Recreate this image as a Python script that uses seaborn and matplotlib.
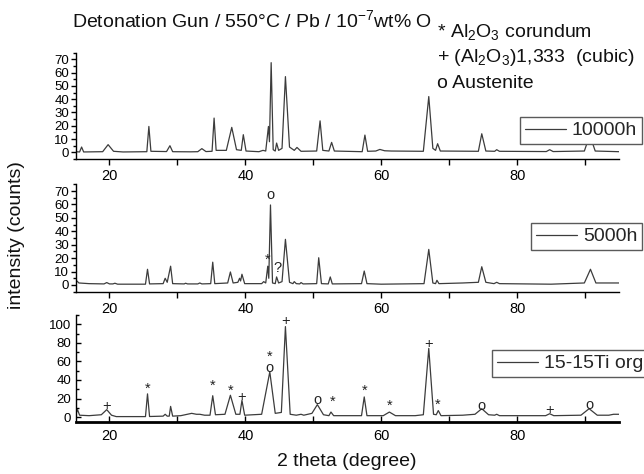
import matplotlib
matplotlib.use("Agg")
import matplotlib.pyplot as plt
from matplotlib.ticker import MultipleLocator
import pandas as pd
import seaborn as sns

# ---------------- data (vertices) ----------------
tt_10000 = [15.0, 15.6, 15.9, 16.2, 19.0, 19.8, 20.6, 22.0, 25.5, 25.8, 26.1, 28.4, 28.9, 29.3,
            32.0, 33.0, 33.6, 34.2, 35.1, 35.4, 35.7, 37.2, 38.0, 38.7, 39.4, 39.7, 40.1, 42.0,
            42.6, 43.0, 43.4, 43.55, 43.8, 44.1, 44.4, 44.6, 44.9, 45.4, 45.9, 46.5, 47.2, 47.6,
            48.2, 50.5, 51.0, 51.4, 52.3, 52.7, 53.1, 57.2, 57.6, 58.0, 59.2, 59.8, 60.5, 61.5,
            66.2, 67.0, 67.6, 68.0, 68.3, 68.7, 74.3, 74.8, 75.4, 76.7, 77.0, 77.4, 84.3, 84.8,
            85.3, 89.9, 90.7, 91.5, 95.0]
int_10000 = [0.5, 0.3, 4.0, 0.3, 0.5, 5.8, 0.8, 0.3, 0.5, 19.5, 0.8, 0.6, 5.0, 0.5,
             0.4, 0.5, 2.8, 0.6, 0.8, 25.8, 1.5, 1.5, 18.8, 2.0, 1.5, 13.3, 1.0, 0.5,
             1.5, 1.0, 19.5, 8.0, 67.5, 2.0, 1.0, 7.0, 1.5, 3.0, 57.0, 4.0, 1.5, 3.7,
             0.8, 1.0, 23.7, 1.5, 1.0, 7.5, 1.0, 0.5, 13.0, 0.8, 1.0, 2.2, 1.2, 1.0,
             0.8, 42.0, 3.0, 1.5, 6.5, 1.0, 0.8, 14.0, 1.0, 0.8, 2.0, 0.8, 0.6, 2.0,
             0.6, 1.0, 13.0, 1.0, 0.5]

tt_5000 = [15.0, 15.2, 15.5, 17.0, 19.2, 19.6, 20.0, 20.5, 20.8, 21.2, 25.3, 25.6, 25.9, 27.9,
           28.2, 28.5, 29.0, 29.3, 31.0, 31.2, 31.5, 33.0, 33.3, 33.6, 34.9, 35.2, 35.5, 37.4,
           37.8, 38.2, 38.9, 39.15, 39.3, 39.5, 39.9, 42.4, 42.7, 43.0, 43.3, 43.45, 43.7, 44.0,
           44.4, 44.6, 44.9, 45.4, 45.9, 46.5, 47.0, 47.2, 47.5, 48.0, 48.2, 48.5, 50.5, 50.8,
           51.2, 52.2, 52.5, 52.8, 57.1, 57.5, 57.9, 60.0, 66.3, 67.0, 67.6, 68.0, 68.2, 68.5,
           72.0, 74.3, 74.8, 75.4, 76.6, 77.0, 77.4, 85.0, 89.9, 90.8, 91.6, 95.0]
int_5000 = [2.0, 3.0, 1.5, 1.0, 0.8, 1.8, 0.8, 0.8, 1.3, 0.6, 0.6, 11.7, 0.8, 1.0,
            5.0, 2.0, 14.0, 1.0, 0.8, 1.3, 0.8, 0.8, 1.5, 0.8, 1.0, 17.0, 1.0, 1.5,
            9.7, 1.5, 2.0, 5.0, 3.0, 8.0, 1.0, 1.0, 2.5, 1.5, 14.0, 5.0, 59.6, 1.5,
            1.0, 6.0, 1.5, 2.5, 34.0, 2.0, 1.0, 2.5, 1.0, 0.8, 1.8, 0.8, 1.0, 20.3,
            1.0, 0.8, 6.0, 0.8, 1.0, 10.4, 1.0, 0.6, 1.0, 26.5, 1.5, 1.0, 3.5, 1.0,
            1.5, 2.0, 13.6, 2.0, 1.0, 2.0, 1.0, 0.6, 1.5, 11.7, 1.5, 1.5]

tt_org = [15.0, 15.3, 15.6, 17.0, 18.8, 19.6, 20.3, 21.0, 25.3, 25.6, 25.9, 27.9, 28.2, 28.5,
          28.8, 29.0, 29.3, 30.5, 32.1, 32.8, 33.3, 34.0, 34.8, 35.2, 35.6, 37.0, 37.8, 38.6,
          39.2, 39.5, 39.9, 42.4, 43.6, 44.4, 45.3, 45.9, 46.6, 47.5, 48.2, 48.6, 49.8, 50.6,
          51.5, 52.3, 52.6, 53.0, 57.1, 57.5, 57.9, 60.3, 61.2, 62.1, 65.0, 66.2, 67.0, 67.7,
          68.1, 68.4, 68.8, 72.0, 73.8, 74.8, 75.8, 76.7, 77.0, 77.4, 84.2, 84.8, 85.4, 89.4,
          90.6, 91.8, 93.5, 94.2, 95.0]
int_org = [2.0, 8.0, 2.0, 1.5, 2.5, 8.0, 2.0, 0.5, 0.5, 25.0, 0.6, 1.0, 3.0, 1.0,
           1.0, 11.5, 1.0, 1.5, 4.0, 3.0, 3.0, 2.0, 2.0, 23.0, 2.5, 3.0, 23.5, 3.0,
           3.0, 18.0, 2.0, 3.0, 48.7, 4.0, 5.0, 97.5, 3.0, 2.0, 3.0, 2.0, 4.0, 13.4,
           2.5, 1.5, 5.4, 1.5, 1.5, 21.7, 1.5, 1.5, 5.4, 1.5, 1.5, 2.5, 74.0, 3.0,
           2.5, 7.0, 1.5, 2.0, 3.0, 9.0, 2.5, 2.0, 3.0, 1.5, 1.5, 3.6, 1.5, 2.0,
           9.0, 2.0, 2.0, 3.0, 3.0]

series_labels = ["10000h", "5000h", "15-15Ti org"]

# phase marks in the bottom panel
mark_x = [19.6, 25.6, 35.2, 37.8, 39.5, 43.6, 45.9, 50.6, 52.8, 57.5, 61.2, 67.0, 68.3, 74.8, 84.8, 90.6]
mark_y = [11.5, 30.0, 33.6, 28.0, 21.7, 59.0, 103.0, 18.8, 16.0, 28.0, 12.6, 79.0, 13.7, 11.5, 8.0, 12.6]
mark_s = ["+", "*", "*", "*", "+", "*\no", "+", "o", "*", "*", "*", "+", "*", "o", "+", "o"]

# marks in the middle panel
mid_x = [43.7, 43.3, 44.7]
mid_y = [67.0, 19.0, 12.6]
mid_s = ["o", "*", "?"]

# ---------------- style ----------------
sns.set_theme(style="ticks")
plt.rcParams["font.family"] = ["Liberation Sans", "DejaVu Sans"]
plt.rcParams["mathtext.fontset"] = "custom"
plt.rcParams["mathtext.rm"] = "Liberation Sans"
plt.rcParams["mathtext.it"] = "Liberation Sans:italic"
plt.rcParams["mathtext.bf"] = "Liberation Sans:bold"

fig = plt.figure(figsize=(6.44, 4.74), dpi=100)
L, W = 75.5 / 644, (619 - 75.5) / 644
ax1 = fig.add_axes([L, 1 - 159 / 474, W, 106.3 / 474])
ax2 = fig.add_axes([L, 1 - 291.7 / 474, W, 107.4 / 474])
ax3 = fig.add_axes([L, 1 - 421.7 / 474, W, 106.7 / 474])

line_col = "#3c3c3c"
datasets = [(tt_10000, int_10000), (tt_5000, int_5000), (tt_org, int_org)]
axes = [ax1, ax2, ax3]
for ax, (xs, ys), lab in zip(axes, datasets, series_labels):
    df = pd.DataFrame({"two_theta": xs, "intensity": ys})
    sns.lineplot(data=df, x="two_theta", y="intensity", ax=ax, color=line_col,
                 linewidth=0.9, sort=False, estimator=None, label=lab, legend=False)
    ax.set_xlim(15, 95)
    ax.set_xlabel("")
    ax.set_ylabel("")
    for s in ["top", "right"]:
        ax.spines[s].set_visible(False)
    for s in ["left", "bottom"]:
        ax.spines[s].set_color("black")
        ax.spines[s].set_linewidth(1.0)
    ax.xaxis.set_major_locator(MultipleLocator(20))
    ax.xaxis.set_minor_locator(MultipleLocator(10))
    ax.tick_params(axis="x", which="major", labelsize=10.5, length=4.5, width=1, pad=3, colors="black")
    ax.tick_params(axis="x", which="minor", length=4.5, width=1, colors="black")
    ax.tick_params(axis="y", which="major", labelsize=9.5, length=3.5, width=1, pad=1, colors="black")
    ax.tick_params(axis="y", which="minor", length=2.5, width=1, colors="black")
    ax.set_facecolor("white")

for ax in (ax1, ax2):
    ax.set_ylim(-5, 75)
    ax.yaxis.set_major_locator(MultipleLocator(10))
    ax.yaxis.set_minor_locator(MultipleLocator(5))

ax3.set_ylim(-5, 110)
ax3.yaxis.set_major_locator(MultipleLocator(20))
ax3.yaxis.set_minor_locator(MultipleLocator(10))
ax3.tick_params(axis="both", which="both", direction="in")
ax3.tick_params(axis="x", which="major", pad=5)
ax3.tick_params(axis="y", which="major", pad=3)
ax3.spines["bottom"].set_linewidth(2.0)

# legends
leg_pos = [("upper right", (642 / 644, 1 - 117 / 474)),
           ("upper right", (642 / 644, 1 - 223 / 474)),
           ("upper left", (492 / 644, 1 - 350 / 474))]
for ax, (loc, anchor) in zip(axes, leg_pos):
    leg = ax.legend(loc=loc, bbox_to_anchor=anchor, bbox_transform=fig.transFigure,
                    fontsize=14, frameon=True, fancybox=False, framealpha=1,
                    edgecolor="#5a5a5a", handlelength=2.1, handletextpad=0.3,
                    borderpad=0.25, borderaxespad=0)
    leg.get_frame().set_linewidth(1.0)

# marks
for x, y, s in zip(mark_x, mark_y, mark_s):
    ax3.text(x, y, s, ha="center", va="center", fontsize=10.5, color="#222222",
             linespacing=0.75)
for x, y, s in zip(mid_x, mid_y, mid_s):
    ax2.text(x, y, s, ha="center", va="center", fontsize=10.5, color="#222222")

# texts
fig.text(72 / 644, 1 - 20 / 474, r"Detonation Gun / 550°C / Pb / 10$^{\mathrm{-7}}$wt% O",
         fontsize=14, ha="left", va="center", color="#111111")
fig.text(437 / 644, 1 - 32 / 474, r"* Al$_2$O$_3$ corundum", fontsize=14, ha="left", va="center", color="#111111")
fig.text(437 / 644, 1 - 57 / 474, r"+ (Al$_2$O$_3$)1,333  (cubic)", fontsize=14, ha="left", va="center", color="#111111")
fig.text(437 / 644, 1 - 83 / 474, "o Austenite", fontsize=14, ha="left", va="center", color="#111111")
fig.text(16.5 / 644, 1 - 235 / 474, "intensity (counts)", rotation=90, fontsize=14,
         ha="center", va="center", color="#111111")
fig.text(347 / 644, 1 - 461 / 474, "2 theta (degree)", fontsize=14, ha="center", va="center", color="#111111")

fig.savefig("out.png", dpi=100, facecolor="white")
